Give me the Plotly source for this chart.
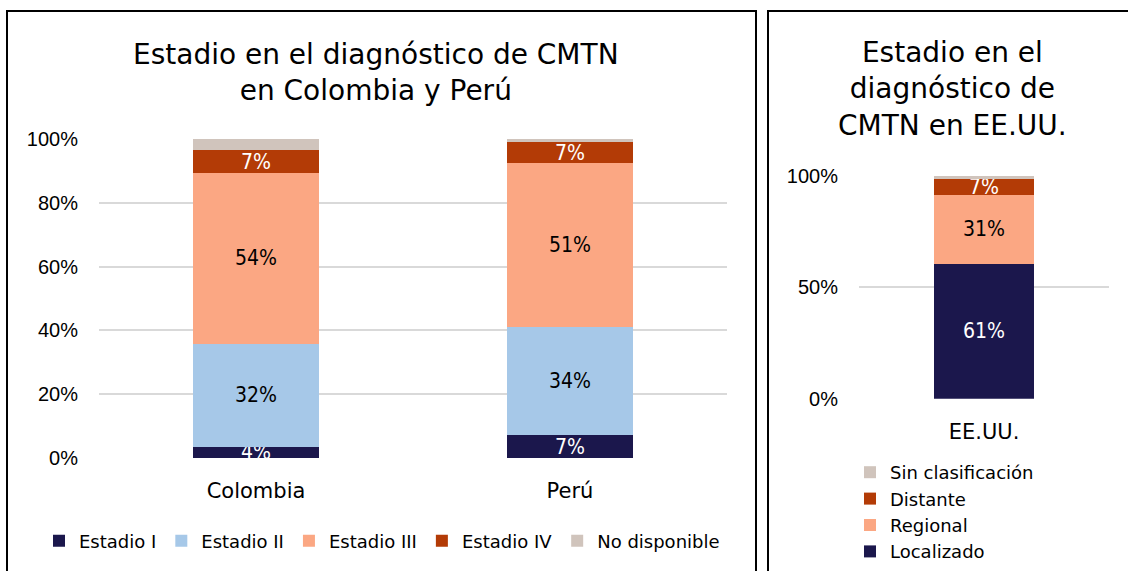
import plotly.graph_objects as go

# Colombia / Perú
countries = ['Colombia', 'Perú']
stages = ['Estadio I', 'Estadio II', 'Estadio III', 'Estadio IV', 'No disponible']
estadio_1 = [3.6, 7.1]
estadio_2 = [32.1, 34.0]
estadio_3 = [53.7, 51.3]
estadio_4 = [7.0, 6.6]
no_disponible = [3.6, 1.0]
left_ticks = [0, 20, 40, 60, 80, 100]

# EE.UU.
us_cat = ['EE.UU.']
us_stages = ['Localizado', 'Regional', 'Distante', 'Sin clasificación']
localizado = [60.6]
regional = [30.8]
distante = [7.3]
sin_clasif = [1.3]
right_ticks = [0, 50, 100]

navy = '#1b174c'
light_blue = '#a6c8e8'
salmon = '#fba783'
rust = '#b33b06'
grey = '#d0c4bc'

W, H = 1128, 571
LBL_FONT = 'DejaVu Sans Condensed, DejaVu Sans'
TXT_FONT = 'DejaVu Sans'

fig = go.Figure()

left_series = [
    (stages[0], estadio_1, navy, 'white', True),
    (stages[1], estadio_2, light_blue, 'black', True),
    (stages[2], estadio_3, salmon, 'black', True),
    (stages[3], estadio_4, rust, 'white', True),
    (stages[4], no_disponible, grey, 'black', False),
]
for name, vals, col, tcol, lab in left_series:
    fig.add_trace(go.Bar(
        x=countries, y=vals, name=name, marker=dict(color=col, line=dict(width=0)),
        texttemplate='%{y:.0f}%' if lab else '', textposition='inside',
        insidetextanchor='middle', constraintext='none',
        insidetextfont=dict(color=tcol, size=21, family=LBL_FONT),
        xaxis='x', yaxis='y', legend='legend', hoverinfo='skip'
    ))

right_series = [
    (us_stages[0], localizado, navy, 'white', True),
    (us_stages[1], regional, salmon, 'black', True),
    (us_stages[2], distante, rust, 'white', True),
    (us_stages[3], sin_clasif, grey, 'black', False),
]
for name, vals, col, tcol, lab in right_series:
    fig.add_trace(go.Bar(
        x=us_cat, y=vals, name=name, marker=dict(color=col, line=dict(width=0)),
        texttemplate='%{y:.0f}%' if lab else '', textposition='inside',
        insidetextanchor='middle', constraintext='none',
        insidetextfont=dict(color=tcol, size=21, family=LBL_FONT),
        xaxis='x2', yaxis='y2', legend='legend2', hoverinfo='skip'
    ))

axis_common = dict(showline=False, zeroline=False, ticks='')
fig.update_layout(
    width=W, height=H, autosize=False,
    margin=dict(l=0, r=0, t=0, b=0, autoexpand=False),
    paper_bgcolor='white', plot_bgcolor='white',
    barmode='stack', bargap=0.6,
    font=dict(family=TXT_FONT, color='black'),
    xaxis=dict(domain=[99 / W, 727 / W], showgrid=False,
               tickfont=dict(size=21, family=TXT_FONT), ticklabelstandoff=18, **axis_common),
    yaxis=dict(domain=[(H - 458) / H, (H - 139) / H], range=[0, 100],
               tickmode='array', tickvals=left_ticks,
               ticktext=[f'{v}%' for v in left_ticks],
               gridcolor='#d9d9d9', gridwidth=2,
               tickfont=dict(size=20, family='Liberation Sans'), ticklabelstandoff=20, **axis_common),
    xaxis2=dict(domain=[859 / W, 1109 / W], anchor='y2', showgrid=False,
                tickfont=dict(size=21, family=TXT_FONT), ticklabelstandoff=18, **axis_common),
    yaxis2=dict(domain=[(H - 398.7) / H, (H - 176) / H], anchor='x2', range=[0, 100],
                tickmode='array', tickvals=right_ticks,
                ticktext=[f'{v}%' for v in right_ticks],
                gridcolor='#d9d9d9', gridwidth=2,
                tickfont=dict(size=20, family='Liberation Sans'), ticklabelstandoff=20, **axis_common),
    legend=dict(orientation='h', x=39 / W, xanchor='left', y=30 / H, yanchor='middle',
                font=dict(size=18, family=TXT_FONT), bgcolor='rgba(0,0,0,0)', traceorder='normal'),
    legend2=dict(orientation='v', x=850 / W, xanchor='left', y=(H - 512) / H, yanchor='middle',
                 font=dict(size=18, family=TXT_FONT), bgcolor='rgba(0,0,0,0)', traceorder='reversed'),
    showlegend=True,
)

fig.add_annotation(text='Estadio en el diagnóstico de CMTN<br>en Colombia y Perú',
                   xref='paper', yref='paper', x=376 / W, y=(H - 72.5) / H,
                   xanchor='center', yanchor='middle', showarrow=False,
                   font=dict(size=28, family=TXT_FONT))
fig.add_annotation(text='Estadio en el<br>diagnóstico de<br>CMTN en EE.UU.',
                   xref='paper', yref='paper', x=952 / W, y=(H - 89) / H,
                   xanchor='center', yanchor='middle', showarrow=False,
                   font=dict(size=28, family=TXT_FONT))

# panel borders
fig.add_shape(type='rect', xref='paper', yref='paper',
              x0=7 / W, x1=756 / W, y0=-0.02, y1=(H - 11) / H,
              line=dict(color='black', width=2))
fig.add_shape(type='rect', xref='paper', yref='paper',
              x0=768 / W, x1=1.02, y0=-0.02, y1=(H - 11) / H,
              line=dict(color='black', width=2))

fig.write_html('out.html', config={'displayModeBar': False},
               post_script="document.body.style.margin='0';")
